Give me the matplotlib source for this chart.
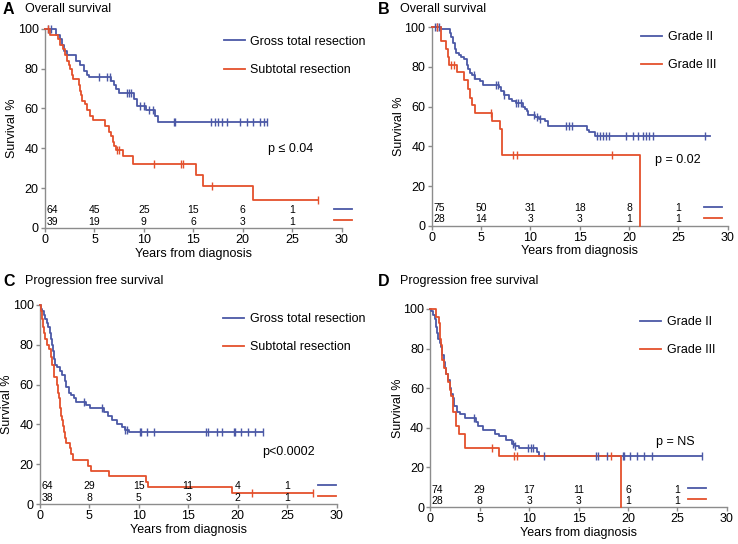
import numpy as np
import matplotlib
matplotlib.use("Agg")
import matplotlib.pyplot as plt

plt.rcParams["font.family"] = ["Liberation Sans", "DejaVu Sans"]

# -------------------- Data --------------------
BLUE = "#4b58a6"
RED = "#e4502c"
GRAY = "#8c8c8c"

# Panel A: overall survival by resection
a_gtr_t = [0, 1.1, 1.5, 1.7, 1.9, 2.2, 3.1, 3.5, 3.9, 4.2, 4.4, 6.7, 7.0, 7.2, 7.5,
           9.0, 9.3, 10.2, 11.1, 11.4, 22.4]
a_gtr_s = [100, 97, 95, 92, 89, 87, 84, 82, 79, 77, 76, 74, 72, 70, 68,
           65, 61, 59, 56, 53, 53]
a_gtr_cens = [0.3, 0.6, 5.5, 6.3, 6.6, 8.3, 8.5, 8.7, 9.6, 10.0, 10.5, 10.9, 13.0, 13.1,
              16.8, 17.2, 17.5, 17.9, 18.4, 19.7, 20.4, 21.0, 21.7, 22.1, 22.4]
a_str_t = [0, 0.5, 1.3, 1.5, 1.8, 2.0, 2.2, 2.4, 2.5, 2.7, 2.8, 3.4, 3.5, 3.6, 3.7,
           4.0, 4.2, 4.5, 4.9, 6.1, 6.5, 6.7, 6.9, 7.0, 7.2, 7.9, 8.9, 15.3, 16.0,
           21.0, 27.6]
a_str_s = [100, 97, 95, 92, 90, 87, 84, 82, 80, 77, 75, 72, 69, 67, 64,
           62, 59, 56, 54, 51, 48, 46, 43, 41, 39, 36, 32, 26.5, 21,
           14, 14]
a_str_cens = [0.3, 7.3, 7.5, 11.0, 13.8, 14.0, 16.9, 27.6]
a_risk_gtr = [64, 45, 25, 15, 6, 1]
a_risk_str = [39, 19, 9, 6, 3, 1]

# Panel B: overall survival by grade
b_g2_t = [0, 0.9, 1.9, 2.0, 2.2, 2.4, 2.5, 2.8, 3.0, 3.3, 3.6, 3.7, 3.9, 4.1, 4.4,
          4.9, 5.2, 6.8, 7.0, 7.3, 7.8, 8.1, 8.5, 9.3, 9.5, 9.7, 9.8, 10.5, 10.9,
          11.5, 11.8, 15.7, 15.9, 16.6, 28.2]
b_g2_s = [100, 99, 97, 95, 92, 89, 87, 86, 85, 84, 81, 79, 77, 76, 74,
          73, 71, 70, 68, 66, 64, 63, 62, 60, 59, 58, 56, 55, 54,
          53, 50, 48, 47, 45, 45]
b_g2_cens = [0.3, 0.5, 0.7, 4.3, 6.5, 6.7, 7.3, 8.5, 8.7, 9.0, 10.4, 10.7, 11.0,
             13.6, 13.9, 14.2, 16.8, 17.1, 17.4, 17.7, 18.0, 19.7, 20.4, 20.9,
             21.4, 21.7, 22.0, 22.4, 27.7]
b_g3_t = [0, 0.95, 1.4, 1.6, 1.8, 2.6, 3.3, 3.7, 3.9, 4.1, 4.4, 6.1, 6.9, 7.1, 21.1]
b_g3_s = [100, 93, 89, 85, 81, 77.5, 73.5, 69, 64.5, 61, 57, 53, 48.5, 35.5, 0]
b_g3_cens = [0.5, 2.0, 2.3, 6.0, 8.2, 8.6, 18.3]
b_risk_g2 = [75, 50, 31, 18, 8, 1]
b_risk_g3 = [28, 14, 3, 3, 1, 1]

# Panel C: progression free survival by resection
c_gtr_t = [0, 0.1, 0.2, 0.4, 0.5, 0.7, 0.85, 1.0, 1.1, 1.2, 1.3, 1.4, 1.5, 1.7, 2.0,
           2.2, 2.5, 2.6, 2.9, 3.2, 3.5, 3.7, 4.7, 5.1, 6.5, 6.9, 7.3, 7.8, 8.3,
           8.6, 9.0, 22.6]
c_gtr_s = [100, 98, 97, 95, 93, 91, 89, 86, 83, 80, 77, 73, 70, 69, 67,
           65, 62, 59, 56, 55, 53, 51, 49.5, 48, 46, 44, 42, 40, 38.5,
           37, 36.3, 36.3]
c_gtr_cens = [4.5, 6.3, 8.6, 8.8, 10.1, 10.2, 10.8, 11.5, 16.8, 17.0, 17.9, 18.4,
              19.6, 19.7, 20.3, 21.0, 21.8, 22.6]
c_str_t = [0, 0.1, 0.2, 0.3, 0.4, 0.5, 0.7, 0.9, 1.1, 1.2, 1.45, 1.7, 1.8, 1.9, 2.0,
           2.1, 2.2, 2.35, 2.45, 2.55, 2.65, 3.0, 3.15, 3.4, 4.9, 5.2, 7.0, 10.7,
           10.9, 19.4, 27.6]
c_str_s = [100, 97, 93, 89, 86, 83, 80, 78, 74, 70, 64, 60, 56, 53, 48,
           44, 42, 39, 36, 33, 30.5, 28, 25, 22, 19, 16.5, 14, 11,
           8.3, 5.5, 5.5]
c_str_cens = [21.5, 27.6]
c_risk_gtr = [64, 29, 15, 11, 4, 1]
c_risk_str = [38, 8, 5, 3, 2, 1]

# Panel D: progression free survival by grade
d_g2_t = [0, 0.1, 0.3, 0.5, 0.6, 0.7, 0.8, 0.95, 1.1, 1.2, 1.35, 1.45, 1.6, 1.8,
          1.95, 2.1, 2.3, 2.45, 2.7, 3.0, 3.5, 4.6, 4.8, 5.3, 6.5, 7.0, 7.7, 8.3,
          8.6, 9.0, 10.8, 11.0, 27.5]
d_g2_s = [100, 99, 97, 95, 91, 88, 85, 83, 81, 77, 73, 70, 67, 64,
          60, 57, 55, 51, 48, 47, 45, 43, 41, 39, 37, 36, 34, 32,
          31, 30, 28, 25.7, 25.7]
d_g2_cens = [4.4, 8.4, 8.6, 9.9, 10.2, 10.4, 11.5, 16.8, 17.0, 17.9, 19.5, 19.6,
             20.2, 20.9, 21.6, 22.4, 27.5]
d_g3_t = [0, 0.6, 0.9, 1.0, 1.1, 1.2, 1.4, 1.6, 1.8, 2.0, 2.1, 2.3, 2.6, 2.9, 3.5,
          7.0, 19.3]
d_g3_s = [100, 96, 93, 85, 82, 74, 70, 67, 63, 59, 56, 48, 41, 37, 30, 25.7, 0]
d_g3_cens = [6.2, 8.5, 8.8, 18.3]
d_risk_g2 = [74, 29, 17, 11, 6, 1]
d_risk_g3 = [28, 8, 3, 3, 1, 1]

risk_times = [0, 5, 10, 15, 20, 25]


# -------------------- Helpers --------------------
def km_curve(ax, t, s, cens, color):
    t = np.asarray(t, float)
    s = np.asarray(s, float)
    ax.step(t, s, where="post", color=color, lw=1.3, clip_on=False, zorder=3)
    # censor marks sit on the curve value at their time
    idx = np.searchsorted(t, cens, side="right") - 1
    ax.plot(cens, s[idx], ls="none", marker="|", ms=6, mew=1.0, color=color,
            clip_on=False, zorder=4)


def at_risk(ax, rows_pair, key_x):
    for rows, y, col in zip(rows_pair, (8.8, 3.2), (BLUE, RED)):
        for i, (tt, n) in enumerate(zip(risk_times, rows)):
            if i == 0:
                ax.text(0.15, y, str(n), ha="left", va="center", fontsize=7.5)
            else:
                ax.text(tt, y, str(n), ha="center", va="center", fontsize=7.5)
        ax.plot([key_x, key_x + 1.8], [y + 0.8, y + 0.8], color=col, lw=1.3,
                clip_on=False)


def style_axes(ax):
    ax.set_xlim(0, 30)
    ax.set_ylim(0, 100)
    ax.set_xticks(range(0, 31, 5))
    ax.set_yticks(range(0, 101, 20))
    for side in ("top", "right"):
        ax.spines[side].set_visible(False)
    for side in ("left", "bottom"):
        ax.spines[side].set_color(GRAY)
        ax.spines[side].set_linewidth(1.0)
    ax.tick_params(direction="out", length=3, width=1.0, color=GRAY,
                   labelsize=9, pad=1.5)
    ax.set_xlabel("Years from diagnosis", fontsize=9, labelpad=1)
    ax.set_ylabel("Survival %", fontsize=9)
    ax.yaxis.set_label_coords(-0.09, 0.5)


# -------------------- Figure --------------------
fig = plt.figure(figsize=(7.38, 5.44), dpi=100)

panels = [
    # letter, title, rect, curves, labels, risk rows, p text, p pos, legend anchor, key x
    ("A", "Overall survival", [0.061, 0.581, 0.402, 0.366],
     [(a_gtr_t, a_gtr_s, a_gtr_cens, BLUE), (a_str_t, a_str_s, a_str_cens, RED)],
     ["Gross total resection", "Subtotal resection"],
     (a_risk_gtr, a_risk_str), "p \u2264 0.04", (22.5, 39.5), (0.585, 0.99), 29.2),
    ("B", "Overall survival", [0.585, 0.585, 0.401, 0.365],
     [(b_g2_t, b_g2_s, b_g2_cens, BLUE), (b_g3_t, b_g3_s, b_g3_cens, RED)],
     ["Grade II", "Grade III"],
     (b_risk_g2, b_risk_g3), "p = 0.02", (22.6, 33), (0.69, 1.005), 27.6),
    ("C", "Progression free survival", [0.054, 0.0735, 0.402, 0.366],
     [(c_gtr_t, c_gtr_s, c_gtr_cens, BLUE), (c_str_t, c_str_s, c_str_cens, RED)],
     ["Gross total resection", "Subtotal resection"],
     (c_risk_gtr, c_risk_str), "p<0.0002", (22.5, 26), (0.6, 0.985), 28.1),
    ("D", "Progression free survival", [0.583, 0.068, 0.402, 0.364],
     [(d_g2_t, d_g2_s, d_g2_cens, BLUE), (d_g3_t, d_g3_s, d_g3_cens, RED)],
     ["Grade II", "Grade III"],
     (d_risk_g2, d_risk_g3), "p = NS", (22.8, 33), (0.69, 0.99), 26.1),
]

title_pos = {"A": (0.004, 0.996), "B": (0.512, 0.996),
             "C": (0.004, 0.496), "D": (0.512, 0.496)}

for letter, title, rect, curves, labels, risk, ptext, ppos, leg_anchor, key_x in panels:
    ax = fig.add_axes(rect)
    style_axes(ax)
    handles = []
    for (t, s, cens, col), lab in zip(curves, labels):
        km_curve(ax, t, s, cens, col)
        handles.append(plt.Line2D([], [], color=col, lw=1.3, label=lab))
    ax.legend(handles=handles, loc="upper left", bbox_to_anchor=leg_anchor,
              frameon=False, fontsize=9, handlelength=1.7, handletextpad=0.45,
              labelspacing=1.3, borderaxespad=0)
    at_risk(ax, risk, key_x)
    ax.text(ppos[0], ppos[1], ptext, fontsize=9, ha="left", va="center")

    lx, ly = title_pos[letter]
    fig.text(lx, ly, letter, fontsize=11.5, fontweight="bold", ha="left", va="top")
    fig.text(lx + 0.03, ly - 0.001, title, fontsize=9, ha="left", va="top")

fig.savefig("out.png", dpi=100)
